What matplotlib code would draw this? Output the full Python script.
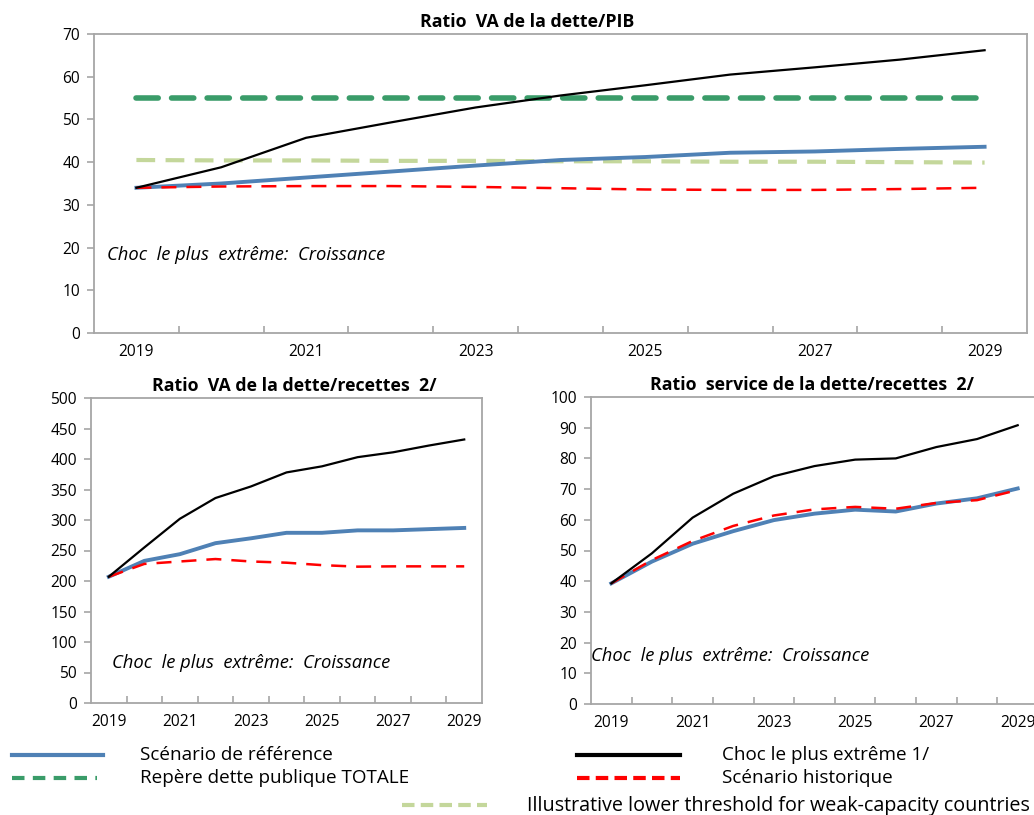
import matplotlib
matplotlib.use("Agg")
import matplotlib.pyplot as plt
from matplotlib.lines import Line2D
import numpy as np

# ---------------- data ----------------
years = list(range(2019, 2030))
year_labels = ["2019", "", "2021", "", "2023", "", "2025", "", "2027", "", "2029"]

# Top: Ratio VA de la dette/PIB
pib_ref = [34.0, 35.0, 36.4, 37.8, 39.2, 40.5, 41.2, 42.2, 42.5, 43.1, 43.6]
pib_choc = [34.0, 38.8, 45.7, 49.3, 52.8, 55.6, 58.0, 60.5, 62.2, 64.0, 66.2]
pib_hist = [34.0, 34.3, 34.4, 34.4, 34.2, 33.9, 33.6, 33.5, 33.5, 33.7, 34.0]
pib_bench = [55, 55, 55, 55, 55, 55, 55, 55, 55, 55, 55]
pib_lower = [40.5, 40.4, 40.4, 40.3, 40.3, 40.2, 40.2, 40.1, 40.1, 40.0, 39.9]

# Bottom left: Ratio VA de la dette/recettes 2/
rec_ref = [207, 233, 244, 262, 270, 279, 279, 283, 283, 285, 287]
rec_choc = [207, 255, 302, 336, 355, 378, 388, 403, 411, 422, 432]
rec_hist = [207, 228, 232, 236, 232, 230, 226, 223.5, 224, 224, 224]

# Bottom right: Ratio service de la dette/recettes 2/
svc_ref = [39.3, 46.4, 52.2, 56.3, 59.9, 62.0, 63.3, 62.7, 65.3, 67.0, 70.2]
svc_choc = [39.3, 49.1, 60.7, 68.5, 74.2, 77.5, 79.6, 80.0, 83.7, 86.3, 90.8]
svc_hist = [39.3, 46.9, 53.1, 58.0, 61.4, 63.4, 64.2, 63.6, 65.5, 66.4, 69.7]

titles = ["Ratio  VA de la dette/PIB",
          "Ratio  VA de la dette/recettes  2/",
          "Ratio  service de la dette/recettes  2/"]
annotation = "Choc  le plus  extrême:  Croissance"
legend_labels = ["Scénario de référence", "Choc le plus extrême 1/",
                 "Repère dette publique TOTALE", "Scénario historique",
                 "Illustrative lower threshold for weak-capacity countries"]

# ---------------- style ----------------
C_BLUE = "#4f81b5"
C_BLACK = "#000000"
C_RED = "#ff0000"
C_GREEN = "#3a9c69"
C_LGREEN = "#c4d79b"
C_SPINE = "#a6a6a6"
FONT = ["Open Sans", "DejaVu Sans"]
plt.rcParams["font.family"] = FONT

W, H = 1034, 815
fig = plt.figure(figsize=(W / 100, H / 100), dpi=100)

TICK_FS = 11.2
TITLE_FS = 12.8
ANN_FS = 13.2


def px_axes(left, top, right, bottom):
    return fig.add_axes([left / W, 1 - bottom / H, (right - left) / W, (bottom - top) / H])


def style_axes(ax, ymax, ystep):
    x = np.arange(len(years))
    ax.set_xlim(-0.5, len(years) - 0.5)
    ax.set_ylim(0, ymax)
    ax.set_yticks(np.arange(0, ymax + 1, ystep))
    ax.set_xticks(x)
    ax.set_xticklabels(year_labels)
    ax.set_xticks(np.arange(0.5, len(years) - 1, 1.0), minor=True)
    ax.tick_params(axis="x", which="major", length=0, pad=8, labelsize=TICK_FS)
    ax.tick_params(axis="x", which="minor", length=5, direction="in", color=C_SPINE, width=1.2)
    ax.tick_params(axis="y", length=5, direction="out", color=C_SPINE, width=1.2,
                   labelsize=TICK_FS, pad=5)
    for s in ax.spines.values():
        s.set_color(C_SPINE)
        s.set_linewidth(1.3)


x = np.arange(len(years))

# Top chart
ax1 = px_axes(94, 34, 1027, 333)
style_axes(ax1, 70, 10)
ax1.plot(x, pib_bench, color=C_GREEN, lw=4, dashes=(4, 2.4), dash_capstyle="round", zorder=2)
ax1.plot(x, pib_lower, color=C_LGREEN, lw=3, dashes=(4.5, 2.5), zorder=2)
ax1.plot(x, pib_ref, color=C_BLUE, lw=2.8, zorder=3)
ax1.plot(x, pib_hist, color=C_RED, lw=1.8, dashes=(6, 4), zorder=4)
ax1.plot(x, pib_choc, color=C_BLACK, lw=1.6, zorder=5)
ax1.text(-0.35, 18.3, annotation, style="italic", fontsize=ANN_FS, va="center", ha="left")
ax1.set_title(titles[0], fontsize=TITLE_FS, fontweight="bold", pad=5, x=0.464)

# Bottom left
ax2 = px_axes(91, 398, 482, 703)
style_axes(ax2, 500, 50)
ax2.plot(x, rec_ref, color=C_BLUE, lw=2.8, zorder=3)
ax2.plot(x, rec_hist, color=C_RED, lw=1.8, dashes=(6, 4), zorder=4)
ax2.plot(x, rec_choc, color=C_BLACK, lw=1.6, zorder=5)
ax2.text(0.1, 65, annotation, style="italic", fontsize=ANN_FS, va="center", ha="left")
ax2.set_title(titles[1], fontsize=TITLE_FS, fontweight="bold", pad=5, x=0.52)

# Bottom right
ax3 = px_axes(591, 397, 1038, 704)
style_axes(ax3, 100, 10)
ax3.plot(x, svc_ref, color=C_BLUE, lw=2.8, zorder=3)
ax3.plot(x, svc_hist, color=C_RED, lw=1.8, dashes=(6, 4), zorder=4)
ax3.plot(x, svc_choc, color=C_BLACK, lw=1.6, zorder=5)
ax3.text(-0.5, 15.6, annotation, style="italic", fontsize=ANN_FS, va="center", ha="left")
ax3.set_title(titles[2], fontsize=TITLE_FS, fontweight="bold", pad=5, x=0.494)

# ---------------- legend (figure coordinates) ----------------
def leg_line(x0, x1, y, **kw):
    fig.add_artist(Line2D([x0 / W, x1 / W], [1 - y / H, 1 - y / H], transform=fig.transFigure, **kw))


def leg_text(x0, y, s, fs=13.6):
    fig.text(x0 / W, 1 - y / H, s, fontsize=fs, va="center", ha="left", family=FONT)


leg_line(12, 103, 755, color=C_BLUE, lw=3)
leg_text(140, 755, legend_labels[0])
leg_line(577, 680, 755, color=C_BLACK, lw=3)
leg_text(722, 755, legend_labels[1])
leg_line(12, 97, 778, color=C_GREEN, lw=3, dashes=(3, 2))
leg_text(140, 778, legend_labels[2])
leg_line(577, 680, 778, color=C_RED, lw=3, dashes=(3, 1.5))
leg_text(722, 778, legend_labels[3])
leg_line(402, 487, 805, color=C_LGREEN, lw=3, dashes=(3, 1.5))
leg_text(527, 806, legend_labels[4], fs=14.2)

fig.savefig("out.png", dpi=100)
